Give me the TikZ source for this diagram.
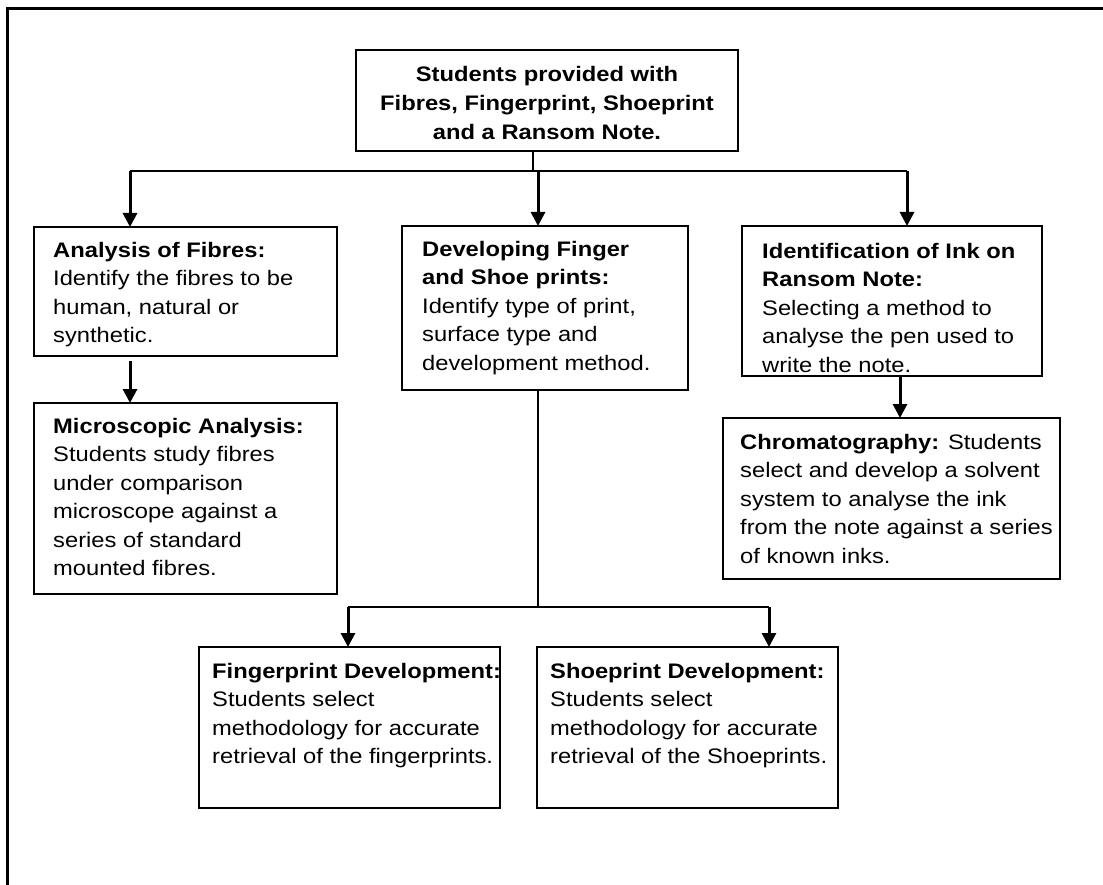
\documentclass[tikz,border=0pt]{standalone}
\usepackage{fontspec}
\setmainfont{Liberation Sans}[FakeStretch=1.13]
\usetikzlibrary{arrows.meta}
\begin{document}
\begin{tikzpicture}[x=1pt,y=-1pt,
  box/.style={draw,line width=2pt,inner sep=0pt,outer sep=0pt,anchor=north west},
  txt/.style={inner sep=0pt,anchor=north west,align=left,font=\fontsize{21}{28.5}\selectfont},
  arr/.style={line width=3pt,-{Triangle[length=14pt,width=14pt]}},
  ln/.style={line width=2pt}]
\useasboundingbox (0,0) rectangle (1103,885);
\fill[white] (0,0) rectangle (1103,885);
\draw[line width=3pt] (7,885) -- (7,9) -- (1103,9);
% boxes
\node[box,minimum width=382pt,minimum height=101pt] (top) at (356,50) {};
\node[box,minimum width=303pt,minimum height=129pt] (fib) at (34,227) {};
\node[box,minimum width=286pt,minimum height=164pt] (dev) at (402,226) {};
\node[box,minimum width=300pt,minimum height=150pt] (ink) at (742,226) {};
\node[box,minimum width=337pt,minimum height=161pt] (chrom) at (723,418) {};
\node[box,minimum width=303pt,minimum height=191pt] (micro) at (34,403) {};
\node[box,minimum width=301pt,minimum height=161pt] (fing) at (199,647) {};
\node[box,minimum width=301pt,minimum height=161pt] (shoe) at (537,647) {};
% texts
\node[txt,anchor=north,align=center,font=\fontsize{21}{29}\selectfont\bfseries] (topt) at (547,66)
  {Students provided with\\Fibres, Fingerprint, Shoeprint\\and a Ransom Note.};
\node[txt] (fibt) at (53,242) {\textbf{Analysis of Fibres:}\\Identify the fibres to be\\human, natural or\\synthetic.};
\node[txt] (devt) at (422,241) {\textbf{Developing Finger}\\\textbf{and Shoe prints:}\\Identify type of print,\\surface type and\\development method.};
\node[txt] (inkt) at (762,243) {\textbf{Identification of Ink on}\\\textbf{Ransom Note:}\\Selecting a method to\\analyse the pen used to\\write the note.};
\node[txt] (chromt) at (740,434) {\textbf{Chromatography:} Students\\select and develop a solvent\\system to analyse the ink\\from the note against a series\\of known inks.};
\node[txt] (microt) at (53,418) {\textbf{Microscopic Analysis:}\\Students study fibres\\under comparison\\microscope against a\\series of standard\\mounted fibres.};
\node[txt] (fingt) at (212,663) {\textbf{Fingerprint Development:}\\Students select\\methodology for accurate\\retrieval of the fingerprints.};
\node[txt] (shoet) at (550,663) {\textbf{Shoeprint Development:}\\Students select\\methodology for accurate\\retrieval of the Shoeprints.};
% connectors
\coordinate (j0) at (533,171);
\coordinate (jL) at (130,171);
\coordinate (jM) at (538,171);
\coordinate (jR) at (907,171);
\draw[ln] (top.south -| j0) -- (j0);
\draw[ln] (jL) -- (jR);
\draw[arr] (jL) -- (fib.north -| jL);
\draw[arr] (jM) -- (dev.north -| jM);
\draw[arr] (jR) -- (ink.north -| jR);
\coordinate (fx) at (130,361);
\draw[arr] (fx) -- (micro.north -| fx);
\coordinate (cx) at (900,376);
\draw[arr] (cx) -- (chrom.north -| cx);
\coordinate (k) at (538,607);
\coordinate (kL) at (348,607);
\coordinate (kR) at (769,607);
\draw[ln] (dev.south -| k) -- (k);
\draw[ln] (kL) -- (kR);
\draw[arr] (kL) -- (fing.north -| kL);
\draw[arr] (kR) -- (shoe.north -| kR);
\end{tikzpicture}
\end{document}
